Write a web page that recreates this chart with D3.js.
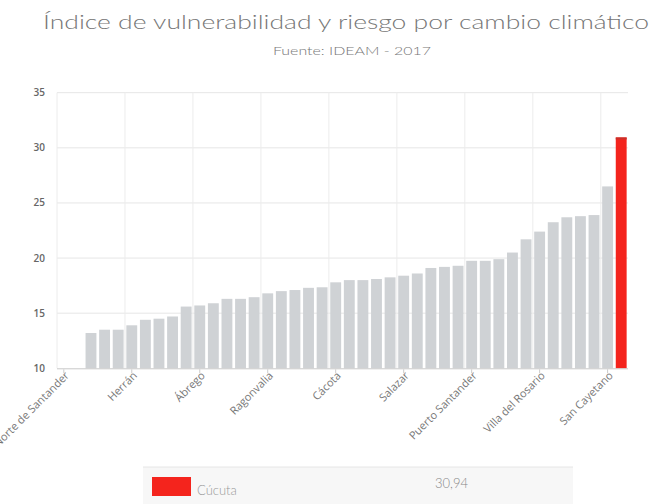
<!DOCTYPE html>
<html>
<head>
<meta charset="utf-8">
<script src="https://cdn.jsdelivr.net/npm/d3@7/dist/d3.min.js"></script>
<style>
  html, body { margin: 0; padding: 0; background: #fff; }
  svg { display: block; }
</style>
</head>
<body>
<svg id="chart" width="658" height="504"></svg>
<script>
// ---- data ----
const titleText = "Índice de vulnerabilidad y riesgo por cambio climático";
const subtitleText = "Fuente: IDEAM - 2017";
const categories = [
  "Norte de Santander", "Nacional",
  "Arboledas", "Bochalema", "Bucarasica", "Herrán",
  "Cáchira", "Chinácota", "Chitagá", "Convención", "Ábrego",
  "Cucutilla", "Durania", "El Carmen", "El Tarra", "Ragonvalia",
  "El Zulia", "Gramalote", "Hacarí", "La Esperanza", "Cácota",
  "La Playa", "Labateca", "Los Patios", "Lourdes", "Salazar",
  "Mutiscua", "Ocaña", "Pamplona", "Pamplonita", "Puerto Santander",
  "San Calixto", "Santiago", "Sardinata", "Silos", "Villa del Rosario",
  "Teorama", "Tibú", "Toledo", "Villa Caro", "San Cayetano",
  "Cúcuta"
];
const values = [
  null, null,
  13.2, 13.5, 13.5, 13.9,
  14.4, 14.5, 14.7, 15.6, 15.7,
  15.9, 16.3, 16.3, 16.45, 16.8,
  17.0, 17.1, 17.3, 17.35, 17.8,
  18.0, 18.0, 18.1, 18.25, 18.4,
  18.6, 19.1, 19.2, 19.3, 19.75,
  19.75, 19.9, 20.5, 21.7, 22.4,
  23.25, 23.7, 23.8, 23.9, 26.5,
  30.94
];
const highlighted = "Cúcuta";
const yTicks = [10, 15, 20, 25, 30, 35];
const labelEvery = 5;

// ---- layout ----
const svg = d3.select("#chart");
const plot = { left: 57, right: 628, top: 92.7, bottom: 368.3 };

const x = d3.scaleBand().domain(categories).range([plot.left, plot.right]).paddingInner(0.2).paddingOuter(0.1);
const step = x.step();
const y = d3.scaleLinear().domain([10, 35]).range([plot.bottom, plot.top]);

// title
svg.append("text")
  .attr("x", 346).attr("y", 29)
  .attr("text-anchor", "middle")
  .attr("textLength", 606).attr("lengthAdjust", "spacingAndGlyphs")
  .style("font-family", "Lato, 'Open Sans', sans-serif")
  .style("font-weight", 300)
  .style("font-size", "20px")
  .style("fill", "#767676")
  .text(titleText);

svg.append("text")
  .attr("x", 352).attr("y", 55)
  .attr("text-anchor", "middle")
  .attr("textLength", 158).attr("lengthAdjust", "spacingAndGlyphs")
  .style("font-family", "Lato, 'Open Sans', sans-serif")
  .style("font-weight", 300)
  .style("font-size", "12px")
  .style("fill", "#777")
  .text(subtitleText);

// grid: horizontal
const g = svg.append("g");
g.selectAll("line.hgrid").data(yTicks.filter(t => t > 10)).enter().append("line")
  .attr("class", "hgrid")
  .attr("x1", plot.left).attr("x2", plot.right)
  .attr("y1", d => y(d)).attr("y2", d => y(d))
  .attr("stroke", "#e6e6e6").attr("stroke-width", 1);

// grid: vertical at category group boundaries
const vIdx = d3.range(0, categories.length, labelEvery);
g.selectAll("line.vgrid").data(vIdx).enter().append("line")
  .attr("class", "vgrid")
  .attr("x1", i => plot.left + i * step).attr("x2", i => plot.left + i * step)
  .attr("y1", plot.top).attr("y2", plot.bottom)
  .attr("stroke", "#ececec").attr("stroke-width", 1);

// bars
const data = categories.map((c, i) => ({ c, v: values[i] })).filter(d => d.v != null);
svg.append("g").selectAll("rect").data(data).enter().append("rect")
  .attr("x", d => x(d.c))
  .attr("width", x.bandwidth())
  .attr("y", d => y(d.v))
  .attr("height", d => y(10) - y(d.v))
  .attr("fill", d => d.c === highlighted ? "#f4241d" : "#cfd2d5");

// red top edge
const hl = data.find(d => d.c === highlighted);
svg.append("rect")
  .attr("x", x(hl.c)).attr("width", x.bandwidth())
  .attr("y", y(hl.v)).attr("height", 2)
  .attr("fill", "#c8302a");

// baseline
svg.append("line")
  .attr("x1", plot.left).attr("x2", plot.right)
  .attr("y1", y(10) + 0.5).attr("y2", y(10) + 0.5)
  .attr("stroke", "#c8c8c8").attr("stroke-width", 1);

// y axis labels
svg.append("g").selectAll("text").data(yTicks).enter().append("text")
  .attr("x", 45).attr("y", d => y(d) + 3.5)
  .attr("text-anchor", "end")
  .style("font-family", "'Open Sans', sans-serif")
  .style("font-weight", 600)
  .style("font-size", "10px")
  .style("fill", "#666")
  .text(d => d);

// x axis labels
const labelIdx = d3.range(0, categories.length, labelEvery);
const xl = svg.append("g");
xl.selectAll("line").data(labelIdx).enter().append("line")
  .attr("x1", i => x(categories[i]) + x.bandwidth() / 2)
  .attr("x2", i => x(categories[i]) + x.bandwidth() / 2)
  .attr("y1", plot.bottom + 1).attr("y2", plot.bottom + 5)
  .attr("stroke", "#ccc");
xl.selectAll("text").data(labelIdx).enter().append("text")
  .attr("transform", i => `translate(${x(categories[i]) + x.bandwidth() / 2 + 6},${plot.bottom + 8}) rotate(-45)`)
  .attr("text-anchor", "end")
  .style("font-family", "'Open Sans', sans-serif")
  .style("font-size", "11px")
  .style("fill", "#777")
  .text(i => categories[i]);

// info box for highlighted
const box = svg.append("g");
box.append("rect")
  .attr("x", 143).attr("y", 467).attr("width", 430).attr("height", 37)
  .attr("fill", "#f7f7f7");
box.append("line")
  .attr("x1", 143).attr("x2", 573).attr("y1", 467).attr("y2", 467)
  .attr("stroke", "#e6e6e6");
box.append("rect")
  .attr("x", 152).attr("y", 477).attr("width", 39).attr("height", 19)
  .attr("fill", "#f4241d");
box.append("text")
  .attr("x", 197).attr("y", 495)
  .style("font-family", "Lato, 'Open Sans', sans-serif")
  .style("font-weight", 300)
  .style("font-size", "13px")
  .style("fill", "#999")
  .text(hl.c);
box.append("text")
  .attr("x", 435).attr("y", 488)
  .style("font-family", "Lato, 'Open Sans', sans-serif")
  .style("font-weight", 300)
  .style("font-size", "13px")
  .style("fill", "#888")
  .text(d3.format(".2f")(hl.v).replace(".", ","));
</script>
</body>
</html>
